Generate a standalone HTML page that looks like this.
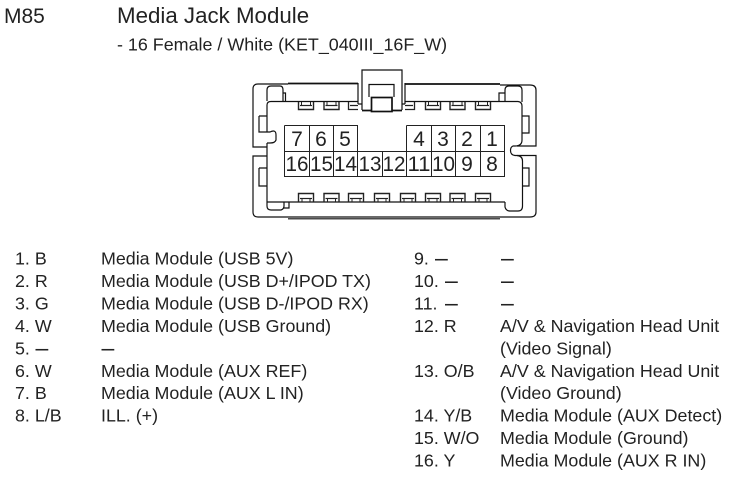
<!DOCTYPE html>
<html><head><meta charset="utf-8"><style>
html,body{margin:0;padding:0;background:#fff}
svg{display:block}
text{font-family:"Liberation Sans",sans-serif;fill:#222;font-size:17.85px}
text.n{font-size:21px;text-anchor:middle}
text.d{font-size:23px}
.l{fill:none;stroke:#111;stroke-width:1.2}
.t{fill:none;stroke:#111;stroke-width:1.7}
</style></head><body>
<svg width="744" height="495" viewBox="0 0 744 495" xmlns="http://www.w3.org/2000/svg">
<defs>
<g id="lt" fill="none" stroke="#222" stroke-width="1.4"><path d="M0.500 0V7.500H15.500V0"/><path d="M2 3.500H14" stroke-width="1.2"/><path d="M3.500 0V3M12.500 0V3" stroke-width="1"/></g>
<g id="lb" fill="none" stroke="#222" stroke-width="1.4"><path d="M0.500 9V0.500H15.500V9"/><path d="M2 5.500H14" stroke-width="1.2"/><path d="M4 5.500V9M12 5.500V9" stroke-width="1"/></g>
</defs>
<text x="4" y="23" style="font-size:21px">M85</text>
<text x="117" y="23" style="font-size:22.3px">Media Jack Module</text>
<text x="117" y="50.500" style="font-size:17.9px">- 16 Female / White (KET_040III_16F_W)</text>

<!-- outer housing -->
<path class="l" d="M288 84H258Q253 84 253 89V147H267M267 156H253V212Q253 217 258 217H530Q536 217 536 212V155.500H517M517 146H536V90Q536 85 530 85H500"/>
<path class="t" d="M288 83.500H358M405 84H500"/>
<path class="l" d="M288 218.800H500"/>
<!-- inner body -->
<path class="l" d="M267 132V105Q267 101.500 271 101.500H298"/>
<path class="l" d="M267 101V90Q267 86 271 86H280Q283 86 283 90V101M283 93H285.500V101.500"/>
<path class="l" d="M267 143V202M259 116H267M259 116V132H270Q276 129 276 135V140Q275 143 270 143H267"/>
<path class="l" d="M259 168H267M259 168V186H267"/>
<path class="l" d="M267 202V206Q267 210 271 210H281Q284 209 284 206V202M284 208H289V202M267 202H505"/>
<path class="l" d="M490 101.500H518Q522 102 522 106V140Q522 146 515 146H513Q510.500 147 510.500 150.500Q510.500 155 515 155.500H517Q522.500 156 522.500 161V206"/>
<path class="l" d="M522 102V90Q522 86 518 86H509Q505 86 505 90V101.500M505 93H499V101.500"/>
<path class="l" d="M505 202V207Q506 211 510 211H518Q522.500 211 522.500 206"/>
<path class="l" d="M298 101.500H358M405 101.500H490"/>
<!-- side tabs -->
<path class="l" d="M522.500 116H529V133H522.500"/>
<path class="l" d="M522.500 168H529V186H522.500"/>
<!-- center housing -->
<path class="l" d="M358 83V104M405 83V104M358 104H362M402 104H405"/>
<path class="l" d="M362 110V70H402V110"/>
<path class="t" d="M362 110.500H371M392 110.500H402"/>
<path class="l" d="M369 97V84.500H394V97"/>
<rect class="t" x="371.500" y="97.500" width="20.500" height="14"/>
<!-- latches -->
<use href="#lt" x="298" y="102"/><use href="#lt" x="323.500" y="102"/>
<g fill="none" stroke="#222" stroke-width="1.3"><path d="M348.500 102V109.500H358M350 105.500H358M405 109.500H414.500V102M405 105.500H413"/></g>
<use href="#lt" x="425" y="102"/><use href="#lt" x="449.500" y="102"/><use href="#lt" x="475" y="102"/>
<use href="#lb" x="298" y="193"/><use href="#lb" x="323.500" y="193"/><use href="#lb" x="348" y="193"/><use href="#lb" x="374" y="193"/><use href="#lb" x="400" y="193"/><use href="#lb" x="425" y="193"/><use href="#lb" x="449.500" y="193"/><use href="#lb" x="475" y="193"/>
<!-- pin table -->
<g fill="none" stroke="#222" stroke-width="1">
<path d="M284.500 125.500H357.500V151M406.500 125.500H504.500V176.500H284.500V125.500"/>
<path d="M406.500 125.500V151M284.500 151.500H504.500"/>
<path d="M309.500 125.500V176.500M333.500 125.500V176.500M357.500 151V176.500M382.500 151V176.500M406.500 151V176.500M431.500 125.500V176.500M455.500 125.500V176.500M480.500 125.500V176.500"/>
</g>
<g>
<text class="n" x="297" y="146">7</text><text class="n" x="321" y="146">6</text><text class="n" x="345" y="146">5</text>
<text class="n" x="419" y="146">4</text><text class="n" x="443" y="146">3</text><text class="n" x="467" y="146">2</text><text class="n" x="492" y="146">1</text>
<text class="n" x="297" y="171" textLength="23" lengthAdjust="spacingAndGlyphs">16</text><text class="n" x="321.500" y="171" textLength="23" lengthAdjust="spacingAndGlyphs">15</text><text class="n" x="345.500" y="171" textLength="23" lengthAdjust="spacingAndGlyphs">14</text><text class="n" x="370" y="171" textLength="23" lengthAdjust="spacingAndGlyphs">13</text><text class="n" x="394" y="171" textLength="23" lengthAdjust="spacingAndGlyphs">12</text><text class="n" x="419" y="171" textLength="23" lengthAdjust="spacingAndGlyphs">11</text><text class="n" x="443.500" y="171" textLength="23" lengthAdjust="spacingAndGlyphs">10</text><text class="n" x="467" y="171">9</text><text class="n" x="492" y="171">8</text>
</g>

<!-- left list -->
<text x="15" y="264.500">1. B</text><text x="101" y="264.500">Media Module (USB 5V)</text>
<text x="15" y="287">2. R</text><text x="101" y="287">Media Module (USB D+/IPOD TX)</text>
<text x="15" y="309.400">3. G</text><text x="101" y="309.400">Media Module (USB D-/IPOD RX)</text>
<text x="15" y="331.900">4. W</text><text x="101" y="331.900">Media Module (USB Ground)</text>
<text x="15" y="354.300">5.</text><text class="d" x="35.500" y="355.300">–</text><text class="d" x="101.500" y="355.300">–</text>
<text x="15" y="376.800">6. W</text><text x="101" y="376.800">Media Module (AUX REF)</text>
<text x="15" y="399.200">7. B</text><text x="101" y="399.200">Media Module (AUX L IN)</text>
<text x="15" y="421.700">8. L/B</text><text x="101" y="421.700">ILL. (+)</text>

<!-- right list -->
<text x="414" y="264.500">9.</text><text class="d" x="435" y="265.500">–</text><text class="d" x="501" y="265.500">–</text>
<text x="414" y="287">10.</text><text class="d" x="445" y="288">–</text><text class="d" x="501" y="288">–</text>
<text x="414" y="309.400">11.</text><text class="d" x="445" y="310.400">–</text><text class="d" x="501" y="310.400">–</text>
<text x="414" y="331.900">12. R</text><text x="500" y="331.900">A/V &amp; Navigation Head Unit</text>
<text x="500" y="354.300">(Video Signal)</text>
<text x="414" y="376.800">13. O/B</text><text x="500" y="376.800">A/V &amp; Navigation Head Unit</text>
<text x="500" y="399.200">(Video Ground)</text>
<text x="414" y="421.700">14. Y/B</text><text x="500" y="421.700">Media Module (AUX Detect)</text>
<text x="414" y="444.100">15. W/O</text><text x="500" y="444.100">Media Module (Ground)</text>
<text x="414" y="466.500">16. Y</text><text x="500" y="466.500">Media Module (AUX R IN)</text>
</svg>
</body></html>
